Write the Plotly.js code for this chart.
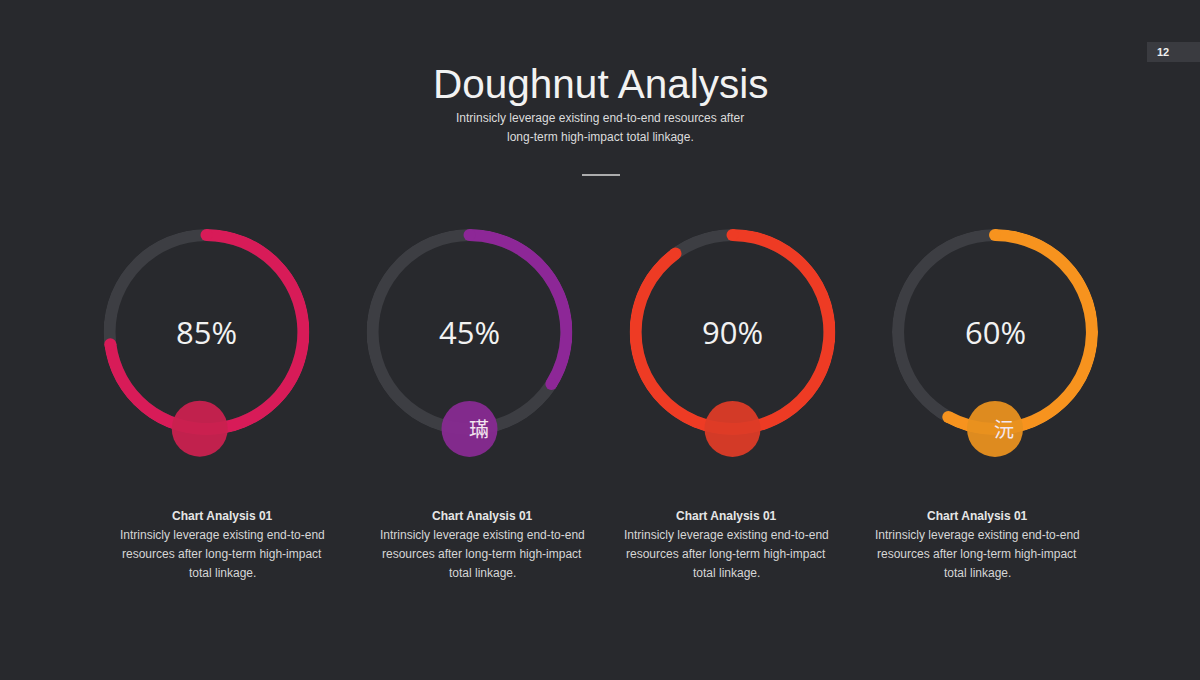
<!DOCTYPE html>
<html>
<head>
<meta charset="utf-8">
<script src="https://cdn.plot.ly/plotly-3.0.1.min.js"></script>
<style>
  html, body { margin: 0; padding: 0; background: #28292d; }
  #chart { width: 1200px; height: 680px; }
</style>
</head>
<body>
<div id="chart"></div>
<script>
// ---- data ----
const labels = ["85%", "45%", "90%", "60%"];           // printed labels
const arcValues = [73, 34, 90, 58];                   // arc lengths as drawn (percent of circle)
const ringColors = ["#d81b58", "#8d2797", "#ee3b24", "#f7931e"];
const dotColors = ["#c9214f", "#872a91", "#dc3b27", "#e8901f"];
const dotChars = ["", "璊", "", "沅"];
const captionTitles = ["Chart Analysis 01", "Chart Analysis 01", "Chart Analysis 01", "Chart Analysis 01"];
const captionLines = [
  "Intrinsicly leverage existing end-to-end",
  "resources after long-term high-impact",
  "total linkage."
];
const trackColor = "#3d3e43";

// ---- layout helpers ----
const W = 1200, H = 680;
const centersX = [206.5, 469.5, 732.5, 995];
const centerY = 332;
const R = 103;
const captionX = [222, 482, 726, 977];
const dotAngle = [184, 180, 180, 180];

const traces = [];
const annotations = [];
const layout = {
  width: W, height: H,
  margin: {l: 0, r: 0, t: 0, b: 0},
  paper_bgcolor: "#28292d",
  plot_bgcolor: "#28292d",
  showlegend: false,
  annotations: annotations,
  shapes: [
    {type: "line", xref: "paper", yref: "paper",
     x0: 582 / W, x1: 620 / W, y0: 1 - 175 / H, y1: 1 - 175 / H,
     line: {color: "#d8d8d8", width: 1.5}},
    {type: "rect", xref: "paper", yref: "paper",
     x0: 1147 / W, x1: 1.0, y0: 1 - 62 / H, y1: 1 - 42 / H,
     fillcolor: "#3a3b40", line: {width: 0}}
  ]
};

const base = 0.883, thick = 1 - base, mid = base + thick / 2;

arcValues.forEach((v, i) => {
  const id = i === 0 ? "polar" : "polar" + (i + 1);
  const cx = centersX[i];
  layout[id] = {
    domain: {x: [(cx - R) / W, (cx + R) / W], y: [1 - (centerY + R) / H, 1 - (centerY - R) / H]},
    bgcolor: "rgba(0,0,0,0)",
    hole: 0,
    radialaxis: {visible: false, range: [0, 1], showgrid: false},
    angularaxis: {visible: false, direction: "clockwise", rotation: 90, showgrid: false}
  };
  const deg = v * 3.6;
  // track
  traces.push({type: "barpolar", subplot: id, r: [thick, thick], base: [base, base],
    theta: [90, 270], width: [180, 180],
    marker: {color: trackColor, line: {width: 0}}, hoverinfo: "skip"});
  // value arc
  traces.push({type: "barpolar", subplot: id, r: [thick], base: [base],
    theta: [deg / 2], width: [deg],
    marker: {color: ringColors[i], line: {width: 0}}, hoverinfo: "skip"});
  // round caps
  traces.push({type: "scatterpolar", subplot: id, mode: "markers", cliponaxis: false,
    r: [mid, mid], theta: [0, deg],
    marker: {size: 12, color: ringColors[i], line: {width: 0}}, hoverinfo: "skip"});
  // bottom dot
  traces.push({type: "scatterpolar", subplot: id, mode: "markers", cliponaxis: false,
    r: [mid], theta: [dotAngle[i]],
    marker: {size: 56, color: dotColors[i], opacity: 0.95, line: {width: 0}}, hoverinfo: "skip"});
  // character on dot
  if (dotChars[i]) {
    annotations.push({xref: "paper", yref: "paper", x: cx / W, y: 1 - (centerY + mid * R) / H,
      xanchor: "center", yanchor: "middle", xshift: 9, showarrow: false, text: dotChars[i],
      font: {family: "Noto Sans CJK SC", size: 20, color: "#f3e6ef"}});
  }
  // center label
  annotations.push({xref: "paper", yref: "paper", x: cx / W, y: 1 - centerY / H,
    xanchor: "center", yanchor: "middle", showarrow: false, text: labels[i],
    font: {family: "Open Sans", size: 31, color: "#f2f2f2"}});
  // captions
  annotations.push({xref: "paper", yref: "paper", x: captionX[i] / W, y: 1 - 516 / H,
    xanchor: "center", yanchor: "middle", showarrow: false,
    text: "<b>" + captionTitles[i] + "</b>",
    font: {family: "Liberation Sans", size: 12, color: "#e6e6e6"}});
  captionLines.forEach((t, k) => {
    annotations.push({xref: "paper", yref: "paper", x: captionX[i] / W, y: 1 - (535 + 19 * k) / H,
      xanchor: "center", yanchor: "middle", showarrow: false, text: t,
      font: {family: "Liberation Sans", size: 12, color: "#d6d6d6"}});
  });
});

// header texts
annotations.push({xref: "paper", yref: "paper", x: 0.5, y: 1 - 84 / H, xanchor: "center", yanchor: "middle",
  showarrow: false, text: "Doughnut Analysis",
  font: {family: "Liberation Sans", size: 40.5, color: "#f2f2f2"}});
annotations.push({xref: "paper", yref: "paper", x: 0.5, y: 1 - 118 / H, xanchor: "center", yanchor: "middle",
  showarrow: false, text: "Intrinsicly leverage existing end-to-end resources after",
  font: {family: "Liberation Sans", size: 12, color: "#dcdcdc"}});
annotations.push({xref: "paper", yref: "paper", x: 0.5, y: 1 - 137 / H, xanchor: "center", yanchor: "middle",
  showarrow: false, text: "long-term high-impact total linkage.",
  font: {family: "Liberation Sans", size: 12, color: "#dcdcdc"}});
annotations.push({xref: "paper", yref: "paper", x: 1163 / W, y: 1 - 52 / H, xanchor: "center", yanchor: "middle",
  showarrow: false, text: "<b>12</b>",
  font: {family: "Liberation Sans", size: 11, color: "#eeeeee"}});

Plotly.newPlot("chart", traces, layout, {displayModeBar: false, staticPlot: true});
</script>
</body>
</html>
